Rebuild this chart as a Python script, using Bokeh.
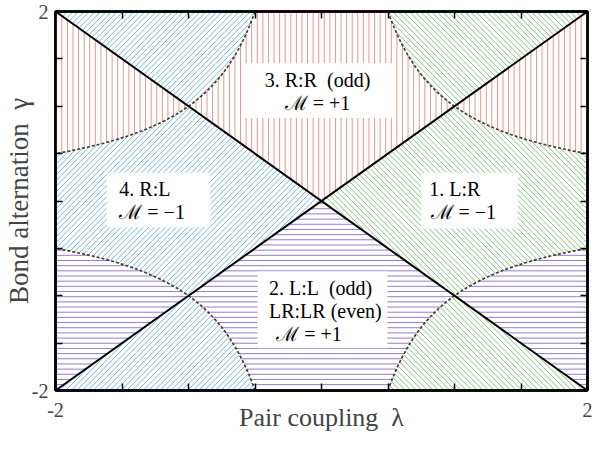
import numpy as np
from bokeh.plotting import figure
from bokeh.models import FixedTicker, LinearAxis, Label
from bokeh.embed import file_html
from bokeh.resources import INLINE

# ---- data -------------------------------------------------------------
lam_limits = [-2.0, 2.0]          # pair coupling range
gam_limits = [-2.0, 2.0]          # bond alternation range
tick_values = [-2.0, -1.5, -1.0, -0.5, 0.0, 0.5, 1.0, 1.5, 2.0]
tick_labels = {-2.0: "-2", 2.0: "2"}
boundary_product = 1.0            # dotted phase boundary |lambda*gamma| = 1

region_titles = ["3. R:R\u00a0\u00a0(odd)", "1. L:R", "2. L:L\u00a0\u00a0(odd)", "4. R:L"]
region_extra = ["", "", "LR:LR (even)", ""]
region_M = ["+1", "\u22121", "+1", "\u22121"]
region_colors = ["#e4857d", "#5fbb5f", "#8466c2", "#4fa7d8"]
# hatch normal direction (screen space, y up) and spacing in px
region_hatch_normal = [(1.0, 0.0), (1.0, 1.0), (0.0, 1.0), (1.0, -1.0)]
region_hatch_gap = [5.7, 4.0, 5.2, 4.0]
region_hatch_alpha = [0.85, 0.8, 0.85, 0.8]

# ---- layout -----------------------------------------------------------
W, H = 592, 434
BL, BR, BT, BB = 44, 5, 11, 42
kx = (W - BL - BR) / 4.0       # px per data unit (approx. frame size)
ky = (H - BT - BB) / 4.0

# ---- geometry of the regions (built from the boundaries) --------------
L = lam_limits[1]
c = boundary_product
s = np.sqrt(c)
n = 120


def hyper(x0, x1, sign):
    xs = np.linspace(x0, x1, n)
    return list(xs), list(sign * c / xs)


def top_pieces():
    pieces = []
    hx1, hy1 = hyper(-s, -c / L, -1)
    hx2, hy2 = hyper(c / L, s, 1)
    pieces.append(([0.0] + hx1 + hx2, [0.0] + hy1 + hy2))
    hx, hy = hyper(L, s, 1)
    pieces.append(([s, L] + hx, [s, L] + hy))
    hx, hy = hyper(-L, -s, -1)
    pieces.append(([-s, -L] + hx, [s, L] + hy))
    return pieces


def rotate_cw(xs, ys, k):
    xs, ys = list(xs), list(ys)
    for _ in range(k):
        xs, ys = ys, [-v for v in xs]
    return xs, ys


def hatch_segments(xs, ys, normal, gap):
    u = np.asarray(xs) * kx
    v = np.asarray(ys) * ky
    nx, ny = normal
    nn = np.hypot(nx, ny)
    nx, ny = nx / nn, ny / nn
    tx, ty = -ny, nx
    proj = u * nx + v * ny
    A = np.arange(len(u))
    B = np.roll(A, -1)
    segx, segy = [], []
    k0 = int(np.floor(proj.min() / gap)) - 1
    k1 = int(np.ceil(proj.max() / gap)) + 1
    for kk in range(k0, k1 + 1):
        t = (kk + 0.5) * gap
        fa = proj[A] - t
        fb = proj[B] - t
        cross = (fa <= 0) != (fb <= 0)
        if not cross.any():
            continue
        a, b = A[cross], B[cross]
        r = fa[cross] / (fa[cross] - fb[cross])
        pu = u[a] + (u[b] - u[a]) * r
        pv = v[a] + (v[b] - v[a]) * r
        order = np.argsort(pu * tx + pv * ty)
        pu, pv = pu[order], pv[order]
        for i in range(0, len(pu) - 1, 2):
            segx.append([pu[i] / kx, pu[i + 1] / kx])
            segy.append([pv[i] / ky, pv[i + 1] / ky])
    return segx, segy


p = figure(width=W, height=H, x_range=tuple(lam_limits), y_range=tuple(gam_limits),
           output_backend="svg", toolbar_location=None,
           min_border_left=BL, min_border_right=BR, min_border_top=BT, min_border_bottom=BB)
p.xgrid.visible = False
p.ygrid.visible = False
p.background_fill_color = "white"
p.outline_line_color = "black"
p.outline_line_width = 2.5

base = top_pieces()
for k in range(4):
    allx, ally = [], []
    for (xs, ys) in base:
        rx, ry = rotate_cw(xs, ys, k)
        sx_, sy_ = hatch_segments(rx, ry, region_hatch_normal[k], region_hatch_gap[k])
        allx += sx_
        ally += sy_
    p.multi_line(allx, ally, line_color=region_colors[k], line_width=1.0,
                 line_alpha=region_hatch_alpha[k])

# dotted boundaries
for qx, qy in [(1, 1), (-1, 1), (-1, -1), (1, -1)]:
    xs = np.linspace(c / L, L, n)
    p.line(qx * xs, qy * c / xs, line_color="#4a3b2c", line_width=1.7, line_dash="3 2")

# diagonals
p.line(lam_limits, gam_limits, line_color="black", line_width=2)
p.line(lam_limits, gam_limits[::-1], line_color="black", line_width=2)

# text boxes
box_l = [-0.59, 0.75, -0.48, -1.615]
box_r = [0.553, 1.476, 0.495, -0.836]
box_t = [1.453, 0.299, -0.744, 0.299]
box_b = [0.876, -0.289, -1.554, -0.278]
p.quad(left=box_l, right=box_r, top=box_t, bottom=box_b, fill_color="white", line_color=None)

font = "Liberation Serif"
fs = "20px"
mtxt = ["\u2133 = " + m for m in region_M]
lines = [
    (-0.03, 1.28, region_titles[0], "center"),
    (-0.03, 1.03, mtxt[0], "center"),
    (0.81, 0.13, region_titles[1], "left"),
    (0.82, -0.12, mtxt[1], "left"),
    (-0.395, -0.915, region_titles[2], "left"),
    (-0.395, -1.16, region_extra[2], "left"),
    (-0.34, -1.40, mtxt[2], "left"),
    (-1.52, 0.13, region_titles[3], "left"),
    (-1.52, -0.12, mtxt[3], "left"),
]
for x, y, t, a in lines:
    p.add_layout(Label(x=x, y=y, text=t, text_font=font, text_font_size=fs,
                       text_align=a, text_baseline="middle", text_color="black"))

# axes
ticker = FixedTicker(ticks=tick_values)
overrides = {v: tick_labels.get(v, "") for v in tick_values}
for ax in (p.xaxis[0], p.yaxis[0]):
    ax.ticker = ticker
    ax.major_label_overrides = overrides
    ax.major_tick_in = 7
    ax.major_tick_out = 0
    ax.minor_tick_in = 0
    ax.minor_tick_out = 0
    ax.major_tick_line_width = 1.5
    ax.axis_line_width = 2.5
    ax.major_label_text_font = font
    ax.major_label_text_font_size = "20px"
    ax.axis_label_text_font = font
    ax.axis_label_text_font_style = "normal"
p.xaxis[0].axis_label_text_font_size = "26px"
p.yaxis[0].axis_label_text_font_size = "27px"
p.xaxis[0].axis_label = "Pair coupling\u00a0\u00a0\u03bb"
p.yaxis[0].axis_label = "Bond alternation\u00a0\u00a0\u03b3"
p.xaxis[0].major_label_standoff = 12
p.xaxis[0].axis_label_standoff = -17
p.yaxis[0].major_label_standoff = 7
p.yaxis[0].axis_label_standoff = -5

for side in ("above", "right"):
    ax = LinearAxis(ticker=ticker, major_label_overrides={v: "" for v in tick_values},
                    major_tick_in=7, major_tick_out=0, minor_tick_in=0, minor_tick_out=0,
                    major_tick_line_width=1.5, axis_line_width=2.5,
                    major_label_standoff=0, major_label_text_font_size="1px")
    p.add_layout(ax, side)

open("out.html", "w").write(file_html(p, INLINE))
